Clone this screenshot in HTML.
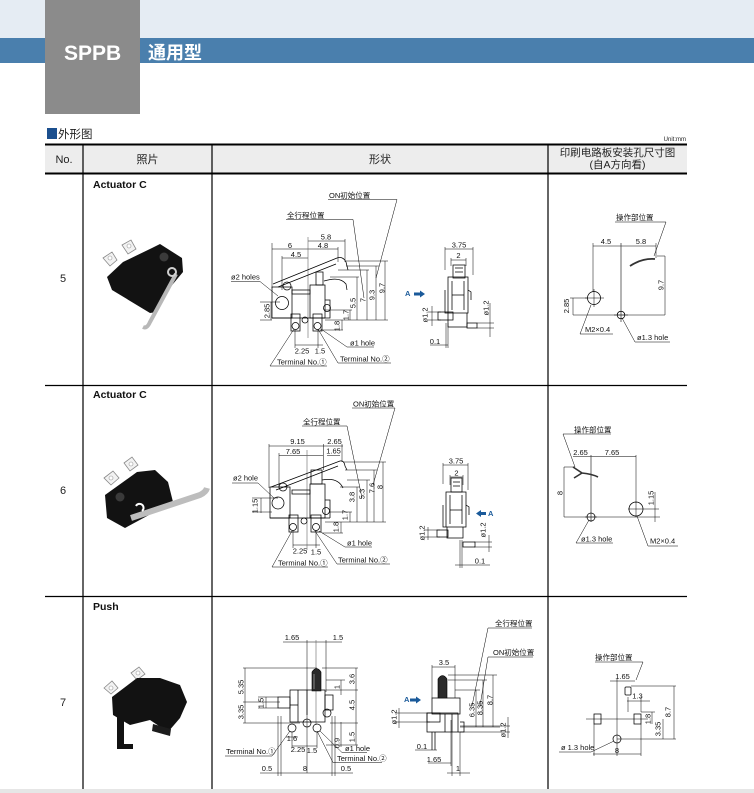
<!DOCTYPE html>
<html><head><meta charset="utf-8">
<style>
html,body{margin:0;padding:0;background:#fff;}
body{width:754px;height:793px;position:relative;overflow:hidden;font-family:"Liberation Sans","Noto Sans CJK SC",sans-serif;}
svg{position:absolute;left:0;top:0;}
.l{stroke:#000;stroke-width:.75;fill:none}
.d{stroke:#000;stroke-width:.5;fill:none}
.c{stroke:#666;stroke-width:.6;fill:none}
.t{font-size:7.5px;fill:#111;font-family:"Liberation Sans","Noto Sans CJK SC",sans-serif}
.m{text-anchor:middle}
.b{fill:#1a5a9a;font-weight:bold}
</style></head><body>
<svg width="754" height="793" viewBox="0 0 754 793" xmlns="http://www.w3.org/2000/svg">
<!-- header bands -->
<rect x="0" y="0" width="754" height="38" fill="#e5ecf3"/>
<rect x="0" y="38" width="754" height="25" fill="#4a7fad"/>
<rect x="45" y="0" width="95" height="114" fill="#8b8b8b"/>
<text x="64" y="60" font-size="21" font-weight="bold" fill="#fff" font-family="Liberation Sans, sans-serif">SPPB</text>
<text x="148" y="59" font-size="18" font-weight="bold" fill="#fff" font-family="Liberation Sans, Noto Sans CJK SC, sans-serif">通用型</text>
<rect x="47" y="128" width="10" height="11" fill="#1b4f8e"/>
<text x="58" y="138" font-size="11.5" fill="#222" font-family="Liberation Sans, Noto Sans CJK SC, sans-serif">外形图</text>
<text x="686" y="141" font-size="6" fill="#222" text-anchor="end" font-family="Liberation Sans, sans-serif">Unit:mm</text>

<!-- table -->
<rect x="45" y="145" width="642" height="28" fill="#ededed"/>
<rect x="45" y="143.5" width="642" height="2" fill="#000"/>
<rect x="45" y="172.5" width="642" height="2" fill="#000"/>
<g font-family="Liberation Sans, Noto Sans CJK SC, sans-serif" font-size="11" fill="#222" text-anchor="middle">
<text x="64" y="163">No.</text>
<text x="147.5" y="163">照片</text>
<text x="380" y="163">形状</text>
<text x="617.5" y="156" font-size="10.5">印刷电路板安装孔尺寸图</text>
<text x="617.5" y="168" font-size="10.5">(自A方向看)</text>
</g>
<g stroke="#000" stroke-width="1.2">
<line x1="83" y1="144" x2="83" y2="789"/>
<line x1="212" y1="144" x2="212" y2="789"/>
<line x1="548" y1="144" x2="548" y2="789"/>
<line x1="45" y1="385.5" x2="687" y2="385.5"/>
<line x1="45" y1="596.5" x2="687" y2="596.5"/>
</g>
<rect x="0" y="789" width="754" height="4" fill="#e6e6e6"/>

<!-- row numbers & titles -->
<g font-family="Liberation Sans, sans-serif" font-size="11" fill="#222">
<text x="60" y="282">5</text>
<text x="60" y="494">6</text>
<text x="60" y="706">7</text>
</g>
<g font-family="Liberation Sans, sans-serif" font-size="10.5" font-weight="bold" fill="#111">
<text x="93" y="188">Actuator C</text>
<text x="93" y="398">Actuator C</text>
<text x="93" y="610">Push</text>
</g>

<!-- photos -->
<g>
 <path d="M103 258 L112 252 L117 260 L110 266 Z" fill="#f2f2f2" stroke="#888" stroke-width=".8"/>
 <circle cx="110" cy="258" r="2" fill="#fff" stroke="#999" stroke-width=".6"/>
 <path d="M122 245 L131 240 L136 249 L128 254 Z" fill="#f2f2f2" stroke="#888" stroke-width=".8"/>
 <circle cx="129" cy="246" r="2" fill="#fff" stroke="#999" stroke-width=".6"/>
 <polygon points="107,277 123,262 152,248 160,244 182,258 183,272 168,290 157,312 150,313 112,290" fill="#121212"/>
 <circle cx="164" cy="257" r="4.5" fill="#3a3a3a"/>
 <path d="M176 274 L150 322 Q147 329 143 327" stroke="#b8b8b8" stroke-width="4" fill="none"/>
 <circle cx="172" cy="272" r="4" stroke="#d0d0d0" stroke-width="2" fill="none"/>
</g>
<g>
 <path d="M104 478 L113 471 L119 478 L111 485 Z" fill="#f2f2f2" stroke="#888" stroke-width=".8"/>
 <circle cx="111" cy="478" r="2" fill="#fff" stroke="#999" stroke-width=".6"/>
 <path d="M124 463 L132 457 L138 465 L130 471 Z" fill="#f2f2f2" stroke="#888" stroke-width=".8"/>
 <circle cx="131" cy="464" r="2" fill="#fff" stroke="#999" stroke-width=".6"/>
 <polygon points="105,495 137,472 155,470 168,482 173,502 125,528 107,518" fill="#121212"/>
 <circle cx="120" cy="497" r="4.5" fill="#3a3a3a"/>
 <path d="M131 518 L200 495 Q206 492 207 488" stroke="#bdbdbd" stroke-width="6" fill="none"/>
 <path d="M136 506 a4 4 0 1 1 6 5" stroke="#fff" stroke-width="2" fill="none"/>
</g>
<g>
 <path d="M104 688 L112 681 L118 688 L111 694 Z" fill="#f2f2f2" stroke="#888" stroke-width=".8"/>
 <circle cx="111" cy="688" r="2" fill="#fff" stroke="#999" stroke-width=".6"/>
 <path d="M131 673 L139 667 L145 674 L137 680 Z" fill="#f2f2f2" stroke="#888" stroke-width=".8"/>
 <circle cx="138" cy="673" r="2" fill="#fff" stroke="#999" stroke-width=".6"/>
 <polygon points="112,697 137,678 160,678 180,685 187,702 180,718 168,732 150,720 130,725 113,715" fill="#121212"/>
 <rect x="117" y="712" width="7" height="36" fill="#121212"/>
 <rect x="117" y="744" width="16" height="5" fill="#121212"/>
 <polygon points="153,724 171,729 170,736 152,731" fill="#1c1c1c"/>
</g>

<!-- ================= ROW 5 main ================= -->
<g class="t">
 <text x="329" y="198">ON初始位置</text>
 <text x="287" y="218">全行程位置</text>
 <text x="326" y="239.5" class="m">5.8</text>
 <text x="323" y="248" class="m">4.8</text>
 <text x="290" y="248" class="m">6</text>
 <text x="296" y="257" class="m">4.5</text>
 <text x="231" y="279.5">ø2 holes</text>
 <text transform="translate(269.5,311) rotate(-90)" class="m">2.85</text>
 <text transform="translate(355.5,303) rotate(-90)" class="m">5.5</text>
 <text transform="translate(365.5,300) rotate(-90)" class="m">7</text>
 <text transform="translate(374.5,295) rotate(-90)" class="m">9.3</text>
 <text transform="translate(384.5,288) rotate(-90)" class="m">9.7</text>
 <text transform="translate(348.5,315) rotate(-90)" class="m">1.7</text>
 <text transform="translate(339.5,326) rotate(-90)" class="m">1.8</text>
 <text x="302" y="353.5" class="m">2.25</text>
 <text x="320" y="353.5" class="m">1.5</text>
 <text x="350" y="345.5">ø1 hole</text>
 <text x="277" y="364.5">Terminal No.①</text>
 <text x="340" y="361.5">Terminal No.②</text>
</g>
<g class="d">
 <path d="M328 199.5H397L376 278 M286 219.5H353L364 298"/>
 <path d="M272 243V288 M282 256V290 M345 239V262 M338 247V262"/>
 <path d="M308 241H345 M308 249H338 M272 249H308 M282 258H308"/>
 <path d="M231 281.5H260L278 296"/>
 <path d="M271 302V320 M260 302H280 M260 320H272"/>
 <path d="M325 320H388 M346 261H388 M346 266H379 M338 270H369 M330 277H359"/>
 <path d="M357 277V320 M367 270V320 M376 266V320 M385 261V320"/>
 <path d="M325 310H352 M350 310V320 M320 330H343 M342 320V330"/>
 <path d="M295 330V348 M318 330V348 M295 345H323"/>
 <path d="M347 347H374 M347 347L321 329 M270 366H327 M270 366L294 329 M338 363H391 M338 363L318 329"/>
</g>
<path class="c" d="M308 237V338"/>
<g class="l">
 <path d="M273 284 L337 258 Q343 256 346 262 L348 270"/>
 <path d="M278 287 L336 264"/>
 <path d="M324 281 Q340 276 346 284 L347 290"/>
 <rect x="272" y="287" width="20" height="31"/>
 <rect x="292" y="290" width="18" height="4"/>
 <rect x="310" y="285" width="15" height="33"/>
 <rect x="316" y="272" width="7" height="13"/>
 <path d="M325 300H330V318H325 M272 318H330"/>
 <circle cx="282" cy="303" r="6.5"/>
 <circle cx="287" cy="286" r="4"/>
 <circle cx="327" cy="308" r="3.5"/>
 <rect x="291" y="314" width="9" height="17"/>
 <rect x="313" y="314" width="9" height="17"/>
 <circle cx="295.5" cy="326" r="3.5"/>
 <circle cx="317.5" cy="326" r="3.5"/>
 <circle cx="305" cy="320" r="3"/>
</g>
<!-- row5 side -->
<g class="t">
 <text x="459" y="247.5" class="m">3.75</text>
 <text x="458.5" y="258" class="m">2</text>
 <text x="405" y="296" class="b" font-size="7.5">A</text>
 <text transform="translate(427.5,315) rotate(-90)" class="m">ø1.2</text>
 <text transform="translate(488.5,308) rotate(-90)" class="m">ø1.2</text>
 <text x="435" y="344" class="m">0.1</text>
</g>
<path d="M414 292.5H420V290.5L425 294L420 297.5V295.5H414Z" fill="#1a5a9a"/>
<g class="d">
 <path d="M445 247V270 M473 247V275 M451 258V266 M466 258V266 M445 249H473 M451 260H466"/>
 <path d="M432 306V326 M428 312H441 M428 320H441"/>
 <path d="M490 303V337 M477 323H494 M477 328H494"/>
 <path d="M430 345H448 M446 323V348 M448 323V348"/>
</g>
<g class="l">
 <rect x="453" y="265" width="12" height="13"/>
 <path d="M455 268H463 M455 272H463"/>
 <path d="M448 277H468V313H448Z M445 290V313H448 M468 290L471 292V300"/>
 <path d="M452 281V310 M464 281V310 M452 295H464"/>
 <path d="M448 313V327H467V313"/>
 <rect x="438" y="312" width="15" height="8"/>
 <rect x="467" y="323" width="10" height="5"/>
</g>
<!-- row5 right -->
<g class="t">
 <text x="616" y="220">操作部位置</text>
 <text x="606" y="244" class="m">4.5</text>
 <text x="641" y="244" class="m">5.8</text>
 <text transform="translate(569,306) rotate(-90)" class="m">2.85</text>
 <text transform="translate(663.5,285) rotate(-90)" class="m">9.7</text>
 <text x="585" y="332">M2×0.4</text>
 <text x="637" y="340">ø1.3 hole</text>
</g>
<g class="d">
 <path d="M615 222H666L654 256"/>
 <path d="M593 246H656 M593 243V292 M656 243V258"/>
 <path d="M573 315H665V256H657"/>
 <path d="M573 298V315 M570 298H588"/>
 <path d="M580 334H613 M580 334L591 305 M635 342H670 M635 342L622 318"/>
 <path d="M585 298H604 M594 289V307 M614 315H628"/>
</g>
<path d="M621 243V322" stroke="#444" stroke-width=".8"/>
<path d="M630 266 Q642 258 655 259" stroke="#333" stroke-width="1.8" fill="none"/>
<g class="l">
 <circle cx="594" cy="298" r="6.5"/>
 <circle cx="621" cy="315" r="3.8"/>
</g>

<!-- ================= ROW 6 main ================= -->
<g class="t">
 <text x="353" y="406.5">ON初始位置</text>
 <text x="303" y="424.5">全行程位置</text>
 <text x="297.5" y="444" class="m">9.15</text>
 <text x="334.5" y="444" class="m">2.65</text>
 <text x="293" y="454" class="m">7.65</text>
 <text x="333.5" y="453.5" class="m">1.65</text>
 <text x="233" y="480.5">ø2 hole</text>
 <text transform="translate(257.5,506) rotate(-90)" class="m">1.15</text>
 <text transform="translate(354.5,497) rotate(-90)" class="m">3.8</text>
 <text transform="translate(364.5,494) rotate(-90)" class="m">5.3</text>
 <text transform="translate(374.5,488) rotate(-90)" class="m">7.6</text>
 <text transform="translate(382.5,487) rotate(-90)" class="m">8</text>
 <text transform="translate(347.5,515) rotate(-90)" class="m">1.7</text>
 <text transform="translate(338.5,527) rotate(-90)" class="m">1.8</text>
 <text x="300" y="553.5" class="m">2.25</text>
 <text x="316" y="554.5" class="m">1.5</text>
 <text x="347" y="545.5">ø1 hole</text>
 <text x="278" y="565.5">Terminal No.①</text>
 <text x="338" y="562.5">Terminal No.②</text>
</g>
<g class="d">
 <path d="M352 408H395L373 485 M302 426H347L362 498"/>
 <path d="M269 446H343 M279 455.5H323 M327 455.5H340"/>
 <path d="M269 444V488 M279 453V488 M323.5 444V470 M342 444V462"/>
 <path d="M232 483H258L274 498"/>
 <path d="M261 498V513 M252 498H278 M252 512H272"/>
 <path d="M343 462H386 M345 470H377 M347 480H370 M340 487H360 M325 522H386"/>
 <path d="M357 487V522 M367 480V522 M374 470V522 M383 462V522"/>
 <path d="M330 512H352 M350 512V522 M322 533H343 M341 522V533"/>
 <path d="M293 530V548 M316 530V548 M293 545H320"/>
 <path d="M345 547H372 M345 547L319 531 M272 567H328 M272 567L292 531 M337 564H390 M337 564L315 531"/>
</g>
<path class="c" d="M307 450V550"/>
<g class="l">
 <path d="M271 487 L340 461 Q344 460 345 466 L347 470"/>
 <path d="M276 490 L338 466"/>
 <path d="M322 480 Q338 477 343 488"/>
 <rect x="270" y="487" width="20" height="31"/>
 <rect x="292" y="490" width="18" height="4"/>
 <rect x="310" y="484" width="15" height="34"/>
 <rect x="311" y="470" width="11" height="14"/>
 <path d="M270 518H330 M325 500H330V518"/>
 <circle cx="278" cy="503" r="6"/>
 <circle cx="283" cy="487" r="4"/>
 <circle cx="326" cy="511" r="3.5"/>
 <rect x="289" y="515" width="9" height="17"/>
 <rect x="311" y="515" width="10" height="17"/>
 <circle cx="293" cy="527" r="3.5"/>
 <circle cx="316" cy="527" r="3.5"/>
 <circle cx="304" cy="521" r="3"/>
</g>
<!-- row6 side -->
<g class="t">
 <text x="456" y="463.5" class="m">3.75</text>
 <text x="456.5" y="475.5" class="m">2</text>
 <text x="488" y="516" class="b" font-size="7.5">A</text>
 <text transform="translate(424.5,533) rotate(-90)" class="m">ø1.2</text>
 <text transform="translate(485.5,530) rotate(-90)" class="m">ø1.2</text>
 <text x="480" y="563.5" class="m">0.1</text>
</g>
<path d="M486 512H481V510L476 513.5L481 517V515H486Z" fill="#1a5a9a"/>
<g class="d">
 <path d="M443 463V484 M468 463V490 M443 465H468 M450 475V485 M463 475V485 M450 477H463"/>
 <path d="M428 527V540 M424 530H440 M424 537H440"/>
 <path d="M489 535V552 M474 542H492 M474 547H492"/>
 <path d="M455 565H490 M460 540V568 M462 540V568"/>
</g>
<g class="l">
 <rect x="451" y="478" width="11" height="14"/>
 <path d="M453 482H460 M453 486H460"/>
 <path d="M446 492H466V527H446Z M443 505V527H446 M466 505L469 507V515"/>
 <path d="M450 495V524 M462 495V524 M450 510H462"/>
 <path d="M447 527V538H463V527"/>
 <rect x="437" y="530" width="11" height="7"/>
 <rect x="463" y="542" width="12" height="5"/>
</g>
<!-- row6 right -->
<g class="t">
 <text x="574" y="432.5">操作部位置</text>
 <text x="580.5" y="455" class="m">2.65</text>
 <text x="612" y="455" class="m">7.65</text>
 <text transform="translate(562.5,493) rotate(-90)" class="m">8</text>
 <text transform="translate(653.5,498) rotate(-90)" class="m">1.15</text>
 <text x="581" y="541.5">ø1.3 hole</text>
 <text x="650" y="543.5">M2×0.4</text>
</g>
<g class="d">
 <path d="M563 434H611 M563 434L575 467"/>
 <path d="M573 456.5H636 M636 455V503"/>
 <path d="M564 467V517H660 M564 467H575"/>
 <path d="M628 509H659 M636 502V517 M655 492V522"/>
 <path d="M576 543H613 M576 543L589 520 M648 546H678 M648 546L637 516"/>
 <path d="M585 517H597"/>
</g>
<path d="M591 455V522" stroke="#444" stroke-width=".8"/>
<path d="M573 467 L582 473 L574 478 M582 473 Q592 474 598 477" stroke="#333" stroke-width="1.6" fill="none"/>
<g class="l">
 <circle cx="591" cy="517" r="4"/>
 <circle cx="636" cy="509" r="7"/>
</g>

<!-- ================= ROW 7 main ================= -->
<g class="t">
 <text x="292" y="640" class="m">1.65</text>
 <text x="338" y="640" class="m">1.5</text>
 <text transform="translate(243.5,687) rotate(-90)" class="m">5.35</text>
 <text transform="translate(243.5,712) rotate(-90)" class="m">3.35</text>
 <text transform="translate(263.5,703) rotate(-90)" class="m">1.5</text>
 <text transform="translate(354.5,679) rotate(-90)" class="m">3.6</text>
 <text transform="translate(354.5,705) rotate(-90)" class="m">4.5</text>
 <text transform="translate(354.5,737) rotate(-90)" class="m">1.5</text>
 <text transform="translate(339.5,687) rotate(-90)" class="m">1</text>
 <text transform="translate(339.5,743) rotate(-90)" class="m">0.9</text>
 <text x="292" y="741" class="m">1.6</text>
 <text x="298" y="752" class="m">2.25</text>
 <text x="312" y="753" class="m">1.5</text>
 <text x="226" y="754">Terminal No.①</text>
 <text x="345" y="751">ø1 hole</text>
 <text x="337" y="761">Terminal No.②</text>
 <text x="267" y="771" class="m">0.5</text>
 <text x="305" y="771" class="m">8</text>
 <text x="346" y="771" class="m">0.5</text>
</g>
<g class="d">
 <path d="M283 642H342 M307 640V773 M326 640V692"/>
 <path d="M245 668V723 M243 668H317 M243 702H280 M243 723H300"/>
 <path d="M266 697V708 M258 697H278 M258 708H278"/>
 <path d="M322 668H358 M326 690H358 M330 723H358 M326 745H358 M356 668V745"/>
 <path d="M341 680V695 M326 680H345 M341 722V747"/>
 <path d="M292 746H317 M292 732V748 M317 732V748 M286 737H298"/>
 <path d="M225 756H272L290 731 M342 752.5H367 M342 752.5L320 731 M333 762.5H382 M333 762.5L317 731"/>
 <path d="M260 773H353 M278 716V776 M281 716V776 M332 716V776 M335 716V776"/>
</g>
<path class="c" d="M316 640V725"/>
<g class="l">
 <rect x="290" y="690" width="35" height="32"/>
 <rect x="278" y="697" width="12" height="11"/>
 <rect x="325" y="695" width="8" height="15"/>
 <path d="M298 690V722 M307 690V715 M290 705H298"/>
 <circle cx="307" cy="723" r="4"/>
 <circle cx="292" cy="728" r="4"/>
 <circle cx="317" cy="728" r="4"/>
 <circle cx="327" cy="713" r="4"/>
</g>
<path d="M312 691V672Q316.5 665 321 672V691Z" fill="#2a2a2a" stroke="#000" stroke-width=".6"/>
<path d="M314 674V689" stroke="#888" stroke-width="1"/>
<!-- row7 side -->
<g class="t">
 <text x="495" y="626">全行程位置</text>
 <text x="493" y="655">ON初始位置</text>
 <text x="444" y="665" class="m">3.5</text>
 <text transform="translate(474.5,710) rotate(-90)" class="m">6.35</text>
 <text transform="translate(482.5,708) rotate(-90)" class="m">8.35</text>
 <text transform="translate(492.5,700) rotate(-90)" class="m">8.7</text>
 <text x="404" y="702" class="b" font-size="7.5">A</text>
 <text transform="translate(396.5,717) rotate(-90)" class="m">ø1.2</text>
 <text transform="translate(505.5,730) rotate(-90)" class="m">ø1.2</text>
 <text x="422" y="749" class="m">0.1</text>
 <text x="434" y="762" class="m">1.65</text>
 <text x="458" y="771" class="m">1</text>
</g>
<path d="M410 698.5H416V696.5L421 700L416 703.5V701.5H410Z" fill="#1a5a9a"/>
<g class="d">
 <path d="M488 628H532 M488 628L472 706 M488 657H533 M488 657L480 706"/>
 <path d="M432 667H455 M432 665V698 M455 665V698"/>
 <path d="M448 675H497 M448 680H487 M455 690H480 M460 727H500"/>
 <path d="M476 690V727 M483 680V727 M493 675V727"/>
 <path d="M399 708V728 M395 713H430 M395 722H430"/>
 <path d="M508 717V738 M460 726H510 M460 732H510"/>
 <path d="M415 750H437 M428 763H451 M451 720V766 M447 773H470 M452 732V776 M460 732V776"/>
</g>
<g class="l">
 <rect x="432" y="698" width="28" height="16"/>
 <rect x="427" y="713" width="31" height="19"/>
 <rect x="427" y="713" width="13" height="9"/>
 <path d="M445 714V732 M452 714V732 M460 722H464V732H458"/>
 <path d="M432 732V750 M435 732V750"/>
</g>
<path d="M438 698V679Q442.5 672 447 679V698Z" fill="#2a2a2a" stroke="#000" stroke-width=".6"/>
<!-- row7 right -->
<g class="t">
 <text x="595" y="660">操作部位置</text>
 <text x="622.5" y="679" class="m">1.65</text>
 <text x="637.5" y="698.5" class="m">1.3</text>
 <text transform="translate(650.5,719) rotate(-90)" class="m">1.8</text>
 <text transform="translate(660.5,729) rotate(-90)" class="m">3.35</text>
 <text transform="translate(670.5,712) rotate(-90)" class="m">8.7</text>
 <text x="561" y="750">ø 1.3 hole</text>
 <text x="617" y="753" class="m">8</text>
</g>
<g class="d">
 <path d="M595 662H643L636 680"/>
 <path d="M610 681H635 M617 679V756"/>
 <path d="M631 686H676 M627 701H650 M628 697V712 M641 697V712"/>
 <path d="M586 719H648 M641 712H655 M652 712V724 M663 719V739 M674 686V739 M617 739H676"/>
 <path d="M559 752H591L614 741"/>
 <path d="M593 754H641 M594 724V756 M641 724V756"/>
</g>
<g class="l">
 <rect x="625" y="687" width="6" height="8" rx="1"/>
 <rect x="594" y="714" width="7" height="10"/>
 <rect x="634" y="714" width="7" height="10"/>
 <circle cx="617" cy="739" r="4"/>
</g>
</svg>
</body></html>
